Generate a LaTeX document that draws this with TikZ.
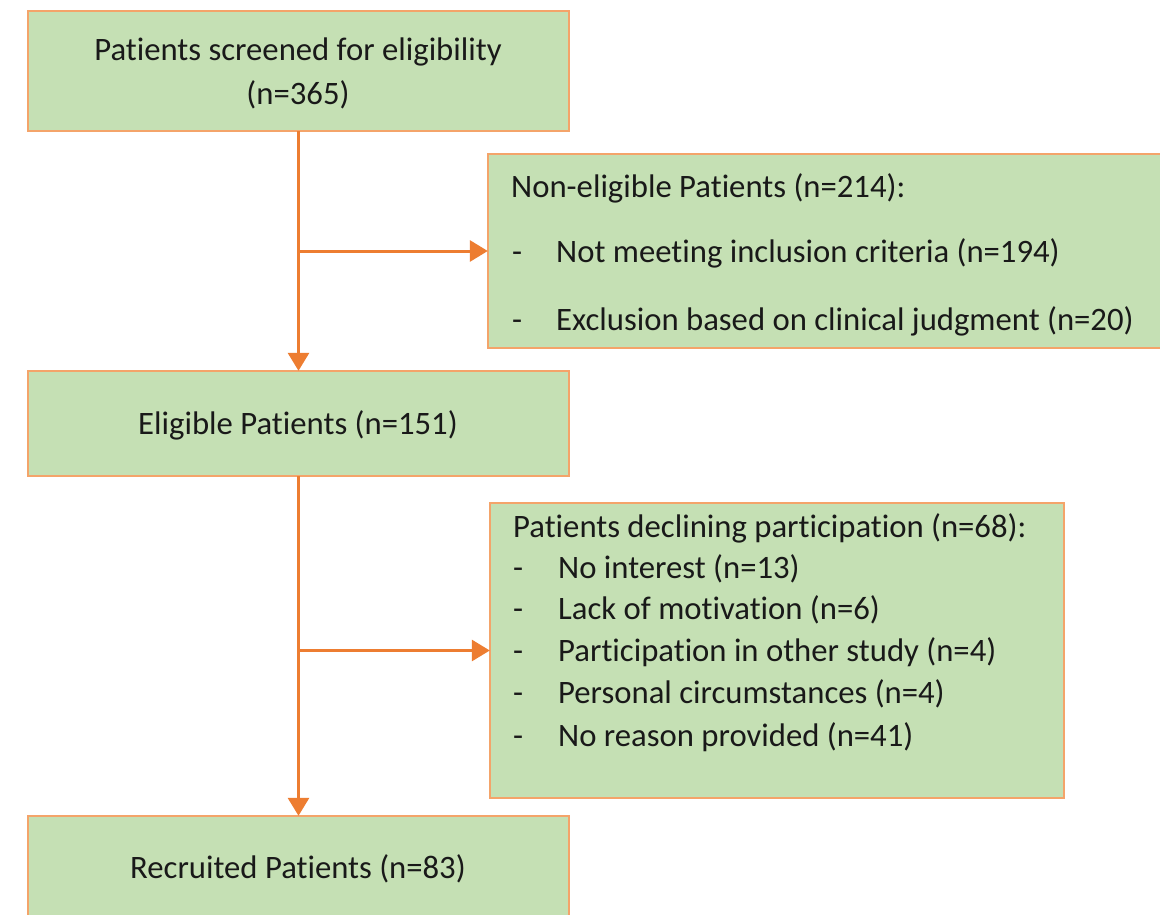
\documentclass[tikz,border=0pt]{standalone}
\usepackage{fontspec}
\setmainfont[Ligatures=NoCommon]{Carlito}
\usetikzlibrary{arrows.meta}
\definecolor{boxfill}{HTML}{C5E0B4}
\definecolor{boxline}{HTML}{F4A46A}
\definecolor{flow}{HTML}{ED7D31}
\begin{document}
\begin{tikzpicture}[x=1pt,y=-1pt,
  box/.style={draw=boxline,line width=1.6pt,fill=boxfill,inner sep=0pt},
  txt/.style={inner sep=0pt,text height=21pt,text depth=0pt,text=black!90,font=\fontsize{32.7}{39}\selectfont},
  ltxt/.style={txt,anchor=west},
  arr/.style={draw=flow,line width=3pt,-{Triangle[length=18pt,width=21pt]}}]
\useasboundingbox (0,0) rectangle (1160,915);
\fill[white] (0,0) rectangle (1160,915);
% boxes
\draw[box] (28,11) rectangle (569,131);
\node (b1) at (298.5,71) [minimum width=541pt,minimum height=120pt,inner sep=0pt] {};
\draw[box] (488,154) rectangle (1166,348);
\node (b2) at (827,251) [minimum width=678pt,minimum height=194pt,inner sep=0pt] {};
\draw[box] (28,371) rectangle (569,476);
\node (b3) at (298.5,423.5) [minimum width=541pt,minimum height=105pt,inner sep=0pt] {};
\draw[box] (490,503) rectangle (1064,798);
\node (b4) at (777,650.5) [minimum width=574pt,minimum height=295pt,inner sep=0pt] {};
\draw[box] (28,816) rectangle (569,930);
\node (b5) at (298.5,873) [minimum width=541pt,minimum height=114pt,inner sep=0pt] {};
% texts
\node[txt] (t1a) at (298,50) {Patients screened for eligibility};
\node[txt] (t1b) at (298,94) {(n=365)};
\node[ltxt] (t2) at (511,187) {Non-eligible Patients (n=214):};
\node[ltxt] (t2d1) at (512,252) {-};
\node[ltxt] (t2a) at (556,252) {Not meeting inclusion criteria (n=194)};
\node[ltxt] (t2d2) at (512,320) {-};
\node[ltxt] (t2b) at (556,320) {Exclusion based on clinical judgment (n=20)};
\node[txt] (t3) at (298,424) {Eligible Patients (n=151)};
\node[ltxt] (t4) at (513,527) {Patients declining participation (n=68):};
\foreach \y/\s [count=\i] in {568/No interest (n=13),609/Lack of motivation (n=6),651/Participation in other study (n=4),693/Personal circumstances (n=4),736/No reason provided (n=41)}{
  \node[ltxt] (t4d\i) at (513,\y) {-};
  \node[ltxt] (t4i\i) at (558,\y) {\s};
}
\node[txt] (t5) at (298,868) {Recruited Patients (n=83)};
% connectors
\draw[arr] (b1.south) -- (b3.north);
\draw[arr] (b2.west -| b1.south) -- (b2.west);
\draw[arr] (b3.south) -- (b5.north);
\draw[arr] (b4.west -| b3.south) -- (b4.west);
\end{tikzpicture}
\end{document}
